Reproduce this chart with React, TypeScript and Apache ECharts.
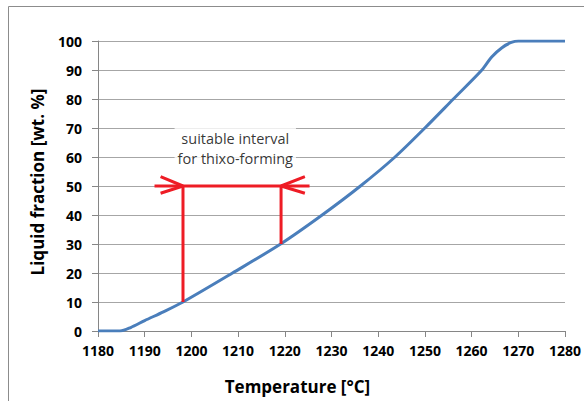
import React, { useEffect, useRef } from "react";
import * as echarts from "echarts";

// Liquid fraction curve: temperature [°C] vs liquid fraction [wt. %]
const temperatures = [1180, 1184.7, 1187, 1190, 1194, 1198.2, 1208.8, 1219.1, 1228, 1236.2, 1243.6, 1250, 1256.1, 1262.2, 1264.3, 1266.5, 1268.5, 1270, 1280];
const liquidFractions = [0, 0, 1.2, 3.6, 6.6, 10, 20, 30, 40, 50, 60, 70, 80, 90, 94.5, 97.7, 99.5, 100, 100];

// Thixo-forming interval annotation
const intervalTemps = [1198.2, 1219.2];
const intervalFractions = [10, 30];
const intervalLevel = 50;
const arrowEnds = [1192.1, 1225.3];
const barbTemps = [1193.4, 1224.3];
const barbFractions = [53.2, 47.5];
const labelPos = [1209.4, 63.1];
const labelText = "suitable interval\nfor thixo-forming";

const xTicks = { min: 1180, max: 1280, interval: 10 };
const yTicks = { min: 0, max: 100, interval: 10 };
const xTitle = "Temperature [°C]";
const yTitle = "Liquid fraction [wt. %]";

const RED = "#ee1c25";
const FONT = "Open Sans";

export default function App() {
  const ref = useRef<HTMLDivElement>(null);
  useEffect(() => {
    if (!ref.current) return;
    const chart = echarts.init(ref.current, undefined, { renderer: "svg" });

    const curve = temperatures.map((t, i) => [t, liquidFractions[i]]);

    const segments: number[][][] = [
      [[intervalTemps[0], intervalFractions[0]], [intervalTemps[0], intervalLevel]],
      [[intervalTemps[1], intervalFractions[1]], [intervalTemps[1], intervalLevel]],
      [[arrowEnds[0], intervalLevel], [arrowEnds[1], intervalLevel]],
      [[barbTemps[0], barbFractions[0]], [intervalTemps[0], intervalLevel], [barbTemps[0], barbFractions[1]]],
      [[barbTemps[1], barbFractions[0]], [intervalTemps[1], intervalLevel], [barbTemps[1], barbFractions[1]]],
    ];

    const redSeries = segments.map((seg) => ({
      type: "line",
      data: seg,
      symbol: "none",
      silent: true,
      lineStyle: { color: RED, width: 3 },
      z: 3,
    }));

    chart.setOption({
      animation: false,
      backgroundColor: "#fff",
      graphic: [
        {
          type: "rect",
          shape: { x: 8.5, y: 6.5, width: 620, height: 430 },
          style: { fill: "none", stroke: "#8c8c8c", lineWidth: 1 },
          silent: true,
          z: -1,
        },
        {
          type: "text",
          x: 37,
          y: 182,
          rotation: Math.PI / 2,
          silent: true,
          style: {
            text: yTitle,
            fontFamily: FONT,
            fontWeight: "bold",
            fontSize: 17,
            fill: "#000",
            align: "center",
            verticalAlign: "middle",
          },
        },
      ],
      grid: { left: 98, right: 17, top: 41, bottom: 70 },
      xAxis: {
        type: "value",
        min: xTicks.min,
        max: xTicks.max,
        interval: xTicks.interval,
        name: xTitle,
        nameLocation: "middle",
        nameGap: 47,
        nameTextStyle: {
          fontFamily: FONT,
          fontWeight: "bold",
          fontSize: 17,
          color: "#000",
          padding: [0, 68, 0, 0],
        },
        axisLine: { lineStyle: { color: "#868686", width: 1 } },
        axisTick: { show: true, length: 6, lineStyle: { color: "#868686" } },
        axisLabel: {
          fontFamily: FONT,
          fontWeight: "bold",
          fontSize: 14,
          color: "#000",
          margin: 12,
          formatter: (v: number) => String(v),
        },
        splitLine: { show: false },
      },
      yAxis: {
        type: "value",
        min: yTicks.min,
        max: yTicks.max,
        interval: yTicks.interval,
        axisLine: { show: true, lineStyle: { color: "#868686", width: 1 } },
        axisTick: { show: true, length: 6, lineStyle: { color: "#868686" } },
        axisLabel: {
          fontFamily: FONT,
          fontWeight: "bold",
          fontSize: 14,
          color: "#000",
          margin: 16,
          formatter: (v: number) => String(v),
        },
        splitLine: { show: true, lineStyle: { color: "#a6a6a6", width: 1 } },
      },
      series: [
        {
          type: "line",
          data: curve,
          smooth: 0.3,
          symbol: "none",
          lineStyle: { color: "#4a7ebb", width: 3 },
          z: 2,
        },
        ...redSeries,
        {
          type: "scatter",
          data: [labelPos],
          symbolSize: 0,
          silent: true,
          z: 4,
          label: {
            show: true,
            position: "inside",
            formatter: labelText,
            fontFamily: FONT,
            fontSize: 14.5,
            lineHeight: 20,
            color: "#000",
            backgroundColor: "#fff",
            padding: [0, 3],
            align: "center",
          },
        },
      ],
    });
    return () => chart.dispose();
  }, []);
  return <div ref={ref} style={{ position: "fixed", left: 0, top: 0, width: 584, height: 401 }} />;
}
